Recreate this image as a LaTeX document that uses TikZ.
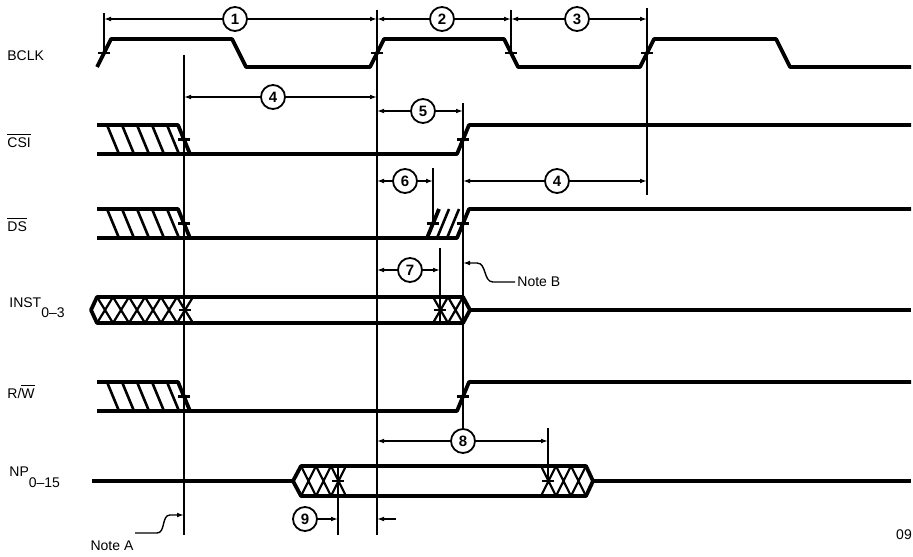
\documentclass[tikz,border=0pt]{standalone}
\usepackage{fontspec}
\setmainfont{Liberation Sans}
\usetikzlibrary{arrows.meta,calc}
\tikzset{
	wave/.style={line width=1.9pt, line join=round},
	guide/.style={line width=0.85pt},
	hatchline/.style={line width=1.3pt},
	xline/.style={line width=1.1pt},
	edgetick/.style={line width=1.1pt},
	dimarrow/.style={line width=0.7pt, -{Latex[length=3.5pt,width=2.4pt]}},
	tnum/.style={circle, draw, line width=0.9pt, minimum size=12pt, inner sep=0pt, font=\bfseries\fontsize{7.5}{8}\selectfont},
	signame/.style={anchor=base west, inner sep=0pt},
}

\begin{document}
\begin{tikzpicture}[x=0.5pt,y=-0.5pt,font=\fontsize{7}{8}\selectfont]
	\useasboundingbox (0,0) rectangle (913,556);
	%Timing references
	\coordinate (ta) at (104,0);
	\coordinate (tb) at (184,0);
	\coordinate (tc) at (377,0);
	\coordinate (td) at (511,0);
	\coordinate (te) at (647,0);
	\coordinate (tf) at (463,0);
	\coordinate (tg) at (433,0);
	\coordinate (th) at (440,0);
	\coordinate (ti) at (548,0);
	\coordinate (tj) at (338,0);
	%Signal names
	\node [signame] (bclk) at (7,61) {BCLK};
	\node [signame] (csi) at (7,147) {$\overline{\mbox{CSI}}$};
	\node [signame] (ds) at (7,231) {$\overline{\mbox{DS}}$};
	\node [signame] (inst) at (9,307) {INST\raisebox{-5pt}{0--3}};
	\node [signame] (rw) at (7,398) {R/$\overline{\mbox{W}}$};
	\node [signame] (np) at (9,476) {NP\raisebox{-5.5pt}{0--15}};
	%BCLK
	\draw [wave] (97,67) -- (111,39) -- (232,39) -- (246,67) -- (370,67) -- (384,39) -- (504,39) -- (518,67) -- (640,67) -- (654,39) -- (776,39) -- (790,67) -- (911,67);
	%CSI, DS and R/W: hatched start
	\foreach \y in {125,209,382}{
		\draw [wave] (97,\y) -- (178,\y) -- (190,\y+29);
		\foreach \h in {107,122,137,152,167}
			\draw [hatchline] (\h,\y) -- (\h+12,\y+29);
	}
	\draw [wave] (97,154) -- (457,154) -- (469,125) -- (911,125);
	\draw [wave] (97,238) -- (457,238) -- (469,209) -- (911,209);
	\draw [wave] (427,238) -- (439,209);
	\draw [hatchline] (437,238) -- (449,209);
	\draw [hatchline] (447,238) -- (459,209);
	\draw [wave] (97,411) -- (457,411) -- (469,382) -- (911,382);
	%INST bus
	\draw [wave] (97,297) -- (463,297) -- (470,310) -- (463,323) -- (97,323) -- (91,310) -- cycle;
	\draw [wave] (470,310) -- (911,310);
	\foreach \s in {97,113,...,177}
		\draw [xline] (\s,297) -- (\s+16,323) (\s,323) -- (\s+16,297);
	\foreach \s in {433,448}
		\draw [xline] (\s,297) -- (\s+15,323) (\s,323) -- (\s+15,297);
	%NP bus
	\draw [wave] (92,481) -- (293,481);
	\draw [wave] (293,481) -- (301,466) -- (586,466) -- (593,481) -- (586,496) -- (301,496) -- cycle;
	\draw [wave] (593,481) -- (911,481);
	\foreach \s in {301,316,331,541,556,571}
		\draw [xline] (\s,466) -- (\s+15,496) (\s,496) -- (\s+15,466);
	%Edge ticks
	\foreach \x/\y in {104/53, 377/53, 511/53, 647/53, 184/139.5, 463/139.5, 184/223.5, 433/223.5, 463/223.5, 185/310, 440/310, 184/396.5, 463/396.5, 338/481, 548/481}
		\draw [edgetick] (\x-6,\y) -- (\x+6,\y);
	%Numbered intervals
	\node [tnum] (n1) at (235,19) {1};
	\node [tnum] (n2) at (442,19) {2};
	\node [tnum] (n3) at (577,19) {3};
	\node [tnum] (n4a) at (273,97) {4};
	\node [tnum] (n5) at (423,111) {5};
	\node [tnum] (n6) at (405,181) {6};
	\node [tnum] (n4b) at (557,181) {4};
	\node [tnum] (n7) at (410,270) {7};
	\node [tnum] (n8) at (463,441) {8};
	\node [tnum] (n9) at (305,519) {9};
	%Vertical lines
	\draw [guide] (104,13) -- (104,56);
	\draw [guide] (184,55) -- (184,535);
	\draw [guide] (377,10) -- (377,535);
	\draw [guide] (511,10) -- (511,53);
	\draw [guide] (647,8) -- (647,195);
	\draw [guide] (463,103) -- (n8.north);
	\draw [guide] (433,168) -- (433,224);
	\draw [guide] (440,248) -- (440,322);
	\draw [guide] (548,428) -- (548,484);
	\draw [guide] (338,468) -- (338,535);
	%Arrows
	\draw [dimarrow] (n1) -- (n1 -| ta);
	\draw [dimarrow] (n1) -- (n1 -| tc);
	\draw [dimarrow] (n2) -- (n2 -| tc);
	\draw [dimarrow] (n2) -- (n2 -| td);
	\draw [dimarrow] (n3) -- (n3 -| td);
	\draw [dimarrow] (n3) -- (n3 -| te);
	\draw [dimarrow] (n4a) -- (n4a -| tb);
	\draw [dimarrow] (n4a) -- (n4a -| tc);
	\draw [dimarrow] (n5) -- (n5 -| tc);
	\draw [dimarrow] (n5) -- (n5 -| tf);
	\draw [dimarrow] (n6) -- (n6 -| tc);
	\draw [dimarrow] (n6) -- (n6 -| tg);
	\draw [dimarrow] (n4b) -- (n4b -| tf);
	\draw [dimarrow] (n4b) -- (n4b -| te);
	\draw [dimarrow] (n7) -- (n7 -| tc);
	\draw [dimarrow] (n7) -- (n7 -| th);
	\draw [dimarrow] (n8) -- (n8 -| tc);
	\draw [dimarrow] (n8) -- (n8 -| ti);
	\draw [dimarrow] (n9) -- (n9 -| tj);
	\coordinate (n9r) at (396,519);
	\draw [dimarrow] (n9r) -- (n9r -| tc);
	%Notes
	\node (noteA) at (112,546) {Note A};
	\node [anchor=west, inner sep=1pt] (noteB) at (515,282) {Note B};
	\coordinate (na) at (135,533);
	\coordinate (naend) at (184,515);
	\coordinate (nbend) at (463,263);
	\draw [dimarrow] (na) -- (157,533) to[out=0,in=180] (170,515) -- (naend);
	\draw [dimarrow] (noteB.west) -- (493,282) to[out=180,in=0] (477,263) -- (nbend);
	\node (pagenum) at (904,535) {09};
\end{tikzpicture}
\end{document}
